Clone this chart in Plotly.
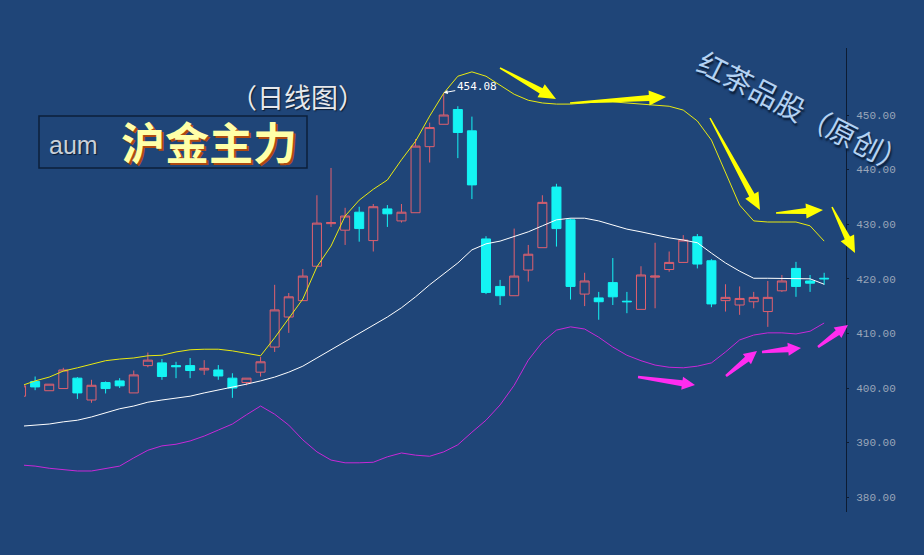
import math
import plotly.graph_objects as go

# ---------------- data ----------------
open_ = [398.5, 401.2, 399.5, 399.9, 401.8, 397.8, 401.0, 401.3, 399.1, 404.1,
         404.6, 404.1, 404.1, 403.3, 403.3, 401.8, 401.0, 402.9, 407.5, 413.0,
         416.0, 422.3, 430.1, 428.9, 432.2, 427.0, 432.8, 430.6, 432.1, 444.2,
         448.3, 451.0, 447.1, 427.3, 418.6, 416.9, 421.6, 425.7, 436.8, 430.8,
         417.2, 416.5, 419.3, 415.9, 414.4, 420.3, 421.7, 423.0, 427.7, 423.3,
         416.0, 415.2, 415.8, 414.0, 417.8, 421.9, 419.6, 420.1]
high = [400.7, 402.1, 400.7, 403.7, 402.0, 401.5, 401.2, 401.8, 403.2, 406.5,
        405.3, 404.8, 405.5, 405.1, 404.2, 402.7, 401.8, 405.7, 418.9, 417.4,
        421.8, 435.3, 440.3, 433.0, 433.2, 433.7, 433.5, 433.7, 445.6, 448.6,
        454.08, 451.6, 449.7, 427.8, 419.8, 429.2, 426.2, 435.3, 437.4, 431.1,
        421.1, 417.6, 423.8, 417.6, 422.3, 426.6, 425.0, 428.0, 428.2, 423.6,
        419.0, 418.6, 417.6, 419.6, 420.7, 423.1, 420.7, 421.1]
low = [398.2, 399.6, 399.5, 399.9, 398.0, 397.3, 399.0, 400.0, 399.1, 403.8,
       401.5, 401.8, 401.8, 402.4, 401.5, 398.2, 400.5, 402.1, 406.6, 410.1,
       416.0, 422.3, 429.5, 426.2, 426.8, 425.0, 429.5, 430.3, 432.1, 441.3,
       448.3, 442.1, 434.6, 417.2, 415.2, 416.9, 419.5, 425.7, 425.9, 416.2,
       415.0, 412.5, 415.2, 413.7, 414.4, 414.6, 421.3, 422.9, 421.9, 414.8,
       414.0, 413.4, 414.6, 411.2, 417.6, 416.7, 417.6, 418.9]
close = [400.4, 400.2, 400.7, 403.3, 399.1, 400.5, 399.9, 400.4, 402.4, 405.1,
         402.1, 403.9, 403.2, 403.6, 402.2, 400.0, 401.8, 404.8, 414.3, 416.7,
         420.5, 430.2, 430.3, 431.5, 429.2, 433.2, 431.9, 432.2, 444.3, 447.7,
         450.0, 446.8, 437.2, 417.5, 416.9, 420.5, 424.5, 434.0, 429.2, 418.6,
         419.6, 415.8, 416.7, 415.8, 420.7, 420.5, 423.0, 427.1, 422.7, 415.4,
         416.6, 416.4, 416.6, 416.6, 419.6, 418.6, 419.2, 420.0]

boll_upper = [400.4, 401.3, 402.0, 403.1, 403.7, 404.4, 405.0, 405.3, 405.5, 405.9,
              406.0, 406.6, 407.0, 407.1, 407.1, 406.8, 406.4, 405.9, 409.2, 412.8,
              416.3, 422.2, 426.0, 431.5, 434.4, 436.4, 438.1, 441.8, 445.2, 449.8,
              454.0, 457.1, 457.9, 457.1, 455.5, 453.8, 452.7, 452.2, 452.0, 452.0,
              452.2, 452.4, 452.4, 452.2, 452.0, 451.8, 451.6, 450.9, 448.9, 445.4,
              439.6, 433.5, 430.6, 430.4, 430.4, 430.4, 429.7, 426.9]
boll_mid = [393.0, 393.2, 393.4, 393.8, 394.1, 394.7, 395.4, 396.2, 396.7, 397.4,
            397.8, 398.2, 398.5, 399.1, 399.6, 400.2, 400.7, 401.3, 402.0, 402.9,
            404.0, 405.5, 407.0, 408.6, 410.1, 411.5, 413.0, 414.7, 416.7, 418.9,
            420.9, 422.9, 425.3, 426.4, 426.9, 427.7, 428.6, 429.7, 430.8, 431.1,
            431.1, 430.6, 429.9, 429.1, 428.6, 428.0, 427.5, 427.1, 426.6, 424.7,
            422.9, 421.4, 420.1, 420.1, 420.1, 420.1, 420.0, 419.0]
boll_lower = [385.9, 385.7, 385.3, 385.0, 384.8, 384.8, 385.2, 385.7, 387.2, 388.6,
              389.4, 389.7, 390.3, 391.2, 392.3, 393.4, 395.1, 396.7, 395.2, 393.2,
              390.5, 388.3, 386.8, 386.3, 386.3, 386.4, 387.4, 388.1, 387.7, 387.5,
              388.3, 389.6, 391.9, 394.1, 396.9, 400.5, 405.1, 408.4, 410.6, 411.2,
              410.8, 409.3, 407.5, 406.0, 405.0, 404.2, 403.8, 403.7, 404.0, 404.6,
              406.6, 408.8, 409.7, 410.1, 410.1, 409.9, 410.4, 411.9]

y_ticks = [380, 390, 400, 410, 420, 430, 440, 450]
peak_label = "454.08"
title_period = "（日线图）"
title_code = "aum"
title_name = "沪金主力"
watermark = "红茶品股（原创）"

# ---------------- figure ----------------
W, H = 924, 555
PL, PR, PT, PB = 24, 846, 48, 512   # plot area in pixels
BG = "#1f4578"
RED = "#e0606e"
CYAN = "#14f4f4"

xs = list(range(len(open_)))

fig = go.Figure()
fig.add_trace(go.Candlestick(
    x=xs, open=open_, high=high, low=low, close=close,
    increasing=dict(line=dict(color=RED, width=1), fillcolor="rgba(0,0,0,0)"),
    decreasing=dict(line=dict(color=CYAN, width=1), fillcolor=CYAN),
    whiskerwidth=0, hoverinfo="skip", showlegend=False))
fig.add_trace(go.Scatter(x=xs, y=boll_upper, mode="lines",
                         line=dict(color="#eaea10", width=1), showlegend=False, hoverinfo="skip"))
fig.add_trace(go.Scatter(x=xs, y=boll_mid, mode="lines",
                         line=dict(color="#ffffff", width=1), showlegend=False, hoverinfo="skip"))
fig.add_trace(go.Scatter(x=xs, y=boll_lower, mode="lines",
                         line=dict(color="#c828d8", width=1), showlegend=False, hoverinfo="skip"))


def P(x, y):
    return (x - PL) / (PR - PL), (PB - y) / (PB - PT)


def arrow_path(x0, y0, x1, y1, tail_w, shaft_w, head_w, head_len):
    dx, dy = x1 - x0, y1 - y0
    L = math.hypot(dx, dy)
    ux, uy = dx / L, dy / L
    nx, ny = -uy, ux
    bx, by = x1 - ux * head_len, y1 - uy * head_len
    pts = [
        (x0 + nx * tail_w / 2, y0 + ny * tail_w / 2),
        (bx + nx * shaft_w / 2, by + ny * shaft_w / 2),
        (bx + nx * head_w / 2, by + ny * head_w / 2),
        (x1, y1),
        (bx - nx * head_w / 2, by - ny * head_w / 2),
        (bx - nx * shaft_w / 2, by - ny * shaft_w / 2),
        (x0 - nx * tail_w / 2, y0 - ny * tail_w / 2),
    ]
    pp = [P(px, py) for px, py in pts]
    return "M " + " L ".join(f"{a:.5f},{b:.5f}" for a, b in pp) + " Z"


shapes = []
yellow_arrows = [((500, 68), (556, 99)), ((570, 103), (666, 97)), ((710, 118), (760, 210)),
                 ((776, 213), (823, 210)), ((832, 207), (855, 253))]
for (a, b) in yellow_arrows:
    shapes.append(dict(type="path", xref="paper", yref="paper",
                       path=arrow_path(a[0], a[1], b[0], b[1], 1.5, 6, 15, 17),
                       fillcolor="#ffff00", line=dict(width=0), layer="above"))
magenta_arrows = [((638, 377), (695, 385)), ((726, 376), (757, 351)),
                  ((762, 352), (801, 348)), ((818, 347), (848, 325))]
for (a, b) in magenta_arrows:
    shapes.append(dict(type="path", xref="paper", yref="paper",
                       path=arrow_path(a[0], a[1], b[0], b[1], 2.5, 6, 13, 13),
                       fillcolor="#ff2cf0", line=dict(width=0), layer="above"))

# title box
bx0, by0 = P(39, 116)
bx1, by1 = P(307, 168)
shapes.append(dict(type="rect", xref="paper", yref="paper", x0=bx0, y0=by1, x1=bx1, y1=by0,
                   line=dict(color="#0c1f3a", width=1.5), fillcolor="rgba(0,0,0,0)"))

annotations = []


def txt(x, y, s, size, color, family, shadow="none", angle=0, weight="normal"):
    px, py = P(x, y)
    annotations.append(dict(x=px, y=py, xref="paper", yref="paper", text=s, showarrow=False,
                            xanchor="center", yanchor="middle", textangle=angle,
                            font=dict(size=size, color=color, family=family, shadow=shadow,
                                      weight=weight)))


txt(297, 96, title_period, 27, "#e6e8ec", "Noto Sans CJK SC", shadow="1px 1px 1px #0a1a30")
txt(73, 145, title_code, 25, "#c9d0d8", "Liberation Sans", shadow="1px 1px 1px #0a1a30")
txt(209, 141, title_name, 44, "#ffffa8", "Noto Sans CJK SC",
    shadow="2px 2px 0px #b04a10", weight="bold")
txt(804, 111, watermark, 29, "#b4d2f2", "Noto Sans CJK SC",
    shadow="2px 2px 2px #0a1a30", angle=27)

# peak label with arrow pointing to the high
annotations.append(dict(x=30, y=high[30], xref="x", yref="y", text=peak_label,
                        showarrow=True, arrowhead=2, arrowsize=0.8, arrowwidth=1,
                        arrowcolor="#ffffff", ax=33, ay=-6,
                        font=dict(size=11, color="#ffffff", family="DejaVu Sans Mono")))

fig.update_layout(
    width=W, height=H,
    margin=dict(l=PL, r=W - PR, t=PT, b=H - PB, pad=0),
    paper_bgcolor=BG, plot_bgcolor=BG,
    boxgap=0.36, boxgroupgap=0,
    xaxis=dict(range=[0.21, 58.55], visible=False, rangeslider=dict(visible=False),
               showgrid=False, zeroline=False),
    yaxis=dict(range=[377.29, 462.27], side="right", tickvals=y_ticks, tickformat=".2f",
               showgrid=False, zeroline=False, showline=True, linecolor="#0d1c33",
               linewidth=1, ticks="outside", ticklen=2, tickcolor="#0d1c33",
               ticklabelstandoff=5,
               tickfont=dict(size=11, color="#9aa6b8", family="Liberation Mono")),
    shapes=shapes, annotations=annotations,
    font=dict(family="Noto Sans CJK SC"),
)

fig.write_html("out.html", config={"displayModeBar": False},
               post_script="document.body.style.margin='0';"
                           "document.body.style.background='" + BG + "';")
